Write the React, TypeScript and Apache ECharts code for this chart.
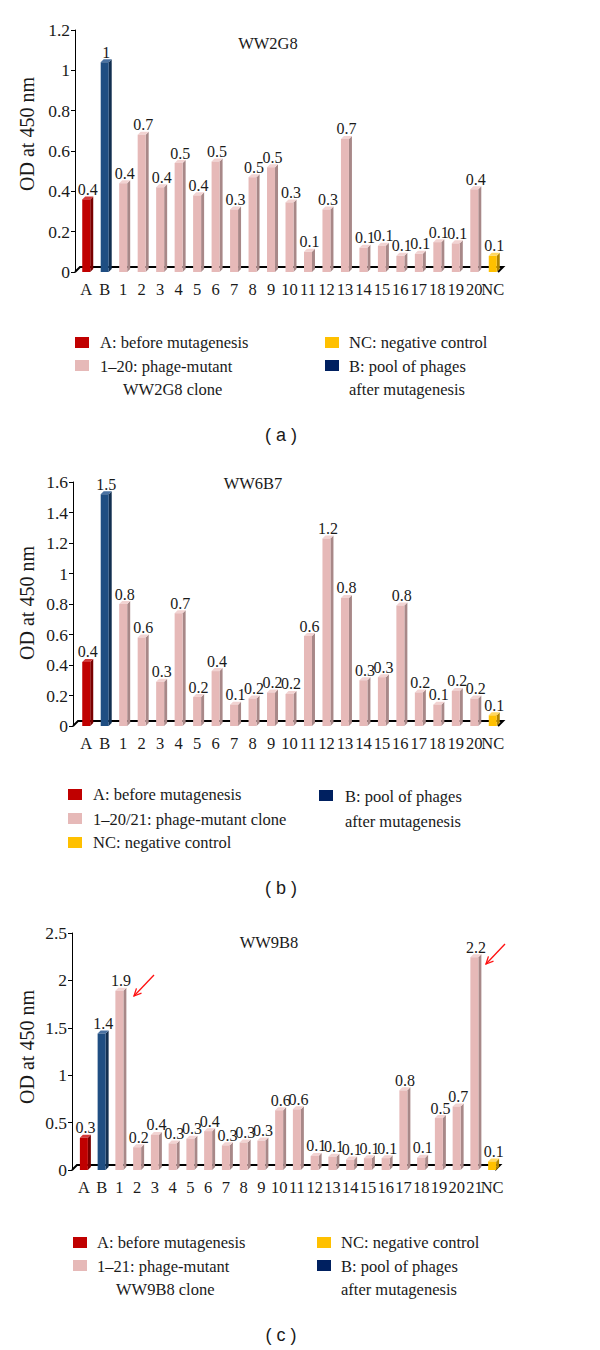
import React, { useEffect, useRef } from "react";
import * as echarts from "echarts";

const SERIF = "'Liberation Serif', 'Times New Roman', serif";
const SANS = "'Liberation Sans', Arial, sans-serif";

// ---- data ----
const categoriesA = ["A", "B", "1", "2", "3", "4", "5", "6", "7", "8", "9", "10", "11", "12", "13", "14", "15", "16", "17", "18", "19", "20", "NC"];
const valuesA = [0.36, 1.04, 0.44, 0.68, 0.42, 0.54, 0.38, 0.548, 0.31, 0.47, 0.52, 0.345, 0.1, 0.31, 0.66, 0.12, 0.13, 0.08, 0.09, 0.148, 0.142, 0.41, 0.08];

const categoriesB = ["A", "B", "1", "2", "3", "4", "5", "6", "7", "8", "9", "10", "11", "12", "13", "14", "15", "16", "17", "18", "19", "20", "NC"];
const valuesB = [0.42, 1.52, 0.8, 0.58, 0.29, 0.74, 0.19, 0.36, 0.14, 0.18, 0.22, 0.21, 0.59, 1.23, 0.84, 0.3, 0.32, 0.79, 0.22, 0.14, 0.23, 0.18, 0.07];

const categoriesC = ["A", "B", "1", "2", "3", "4", "5", "6", "7", "8", "9", "10", "11", "12", "13", "14", "15", "16", "17", "18", "19", "20", "21", "NC"];
const valuesC = [0.34, 1.44, 1.89, 0.24, 0.37, 0.28, 0.33, 0.41, 0.26, 0.29, 0.31, 0.63, 0.64, 0.148, 0.14, 0.11, 0.125, 0.125, 0.84, 0.13, 0.548, 0.67, 2.245, 0.09];

const yMaxes = [1.2, 1.6, 2.5];
const yIntervals = [0.2, 0.2, 0.5];
const titles = ["WW2G8", "WW6B7", "WW9B8"];
const panelLetters = ["( a )", "( b )", "( c )"];
const yName = "OD at 450 nm";

const FACE: Record<string, { front: string; side: string; top: string }> = {
  A: { front: "#C00000", side: "#7A0000", top: "#D23A3A" },
  B: { front: "#1F4E82", side: "#122F50", top: "#4A72A2" },
  P: { front: "#E6B9B8", side: "#A88888", top: "#F2D3D2" },
  NC: { front: "#FFC000", side: "#B08400", top: "#FFD760" },
};

const LEG = { red: "#C00000", pink: "#E6B9B8", yellow: "#FFC000", navy: "#002060" };

const fmt = (v: number) => String(Math.round(v * 10) / 10);

function makeBars(cats: string[], vals: number[], idx: number) {
  return {
    type: "custom",
    xAxisIndex: idx,
    yAxisIndex: idx,
    z: 3,
    data: vals.map((v, i) => [i, v]),
    renderItem: (params: any, api: any) => {
      const i = api.value(0);
      const v = api.value(1);
      const top = api.coord([i, v]);
      const base = api.coord([i, 0]);
      const cat = cats[params.dataIndex];
      const f = cat === "A" ? FACE.A : cat === "B" ? FACE.B : cat === "NC" ? FACE.NC : FACE.P;
      const w = 8;
      const d = 3;
      const x0 = top[0] - w / 2;
      const x1 = top[0] + w / 2;
      const yt = top[1];
      const yb = base[1];
      return {
        type: "group",
        children: [
          { type: "polygon", shape: { points: [[x1, yt], [x1 + d, yt - d], [x1 + d, yb - d], [x1, yb]] }, style: { fill: f.side } },
          { type: "polygon", shape: { points: [[x0, yt], [x0 + d, yt - d], [x1 + d, yt - d], [x1, yt]] }, style: { fill: f.top } },
          { type: "rect", shape: { x: x0, y: yt, width: w, height: yb - yt }, style: { fill: f.front } },
          {
            type: "text",
            style: {
              text: fmt(v),
              x: top[0] + d / 2,
              y: yt - d + 1,
              align: "center",
              verticalAlign: "bottom",
              font: `16px ${SERIF}`,
              fill: "#1a1a1a",
            },
          },
        ],
      };
    },
  };
}

// layout of the three panels
const panels = [
  { left: 77, top: 30, width: 425, height: 242, axisX: 75, rightX: 503, titleX: 268, titleY: 43, nameY: 134 },
  { left: 77, top: 482, width: 425, height: 244, axisX: 73, rightX: 503, titleX: 253, titleY: 483, nameY: 603 },
  { left: 75, top: 933, width: 426, height: 237, axisX: 72, rightX: 500, titleX: 269, titleY: 942, nameY: 1047 },
];

function txt(text: string, x: number, y: number, size = 16, family = SERIF, align = "left", extra: any = {}) {
  return {
    type: "text",
    x,
    y,
    ...extra,
    style: { text, x: 0, y: 0, align, verticalAlign: "middle", font: `${size}px ${family}`, fill: "#1a1a1a" },
  };
}

function sq(x: number, y: number, color: string) {
  return { type: "rect", shape: { x, y, width: 14, height: 11 }, style: { fill: color } };
}

function arrow(x1: number, y1: number, x2: number, y2: number) {
  const dx = x1 - x2;
  const dy = y1 - y2;
  const L = Math.hypot(dx, dy);
  const bx = dx / L;
  const by = dy / L;
  const h = 8;
  const a = Math.PI / 7;
  const p1 = [x2 + h * (bx * Math.cos(a) - by * Math.sin(a)), y2 + h * (bx * Math.sin(a) + by * Math.cos(a))];
  const p2 = [x2 + h * (bx * Math.cos(-a) - by * Math.sin(-a)), y2 + h * (bx * Math.sin(-a) + by * Math.cos(-a))];
  return [
    { type: "line", shape: { x1, y1, x2, y2 }, style: { stroke: "#FF1010", lineWidth: 1.3 } },
    { type: "polyline", shape: { points: [p1, [x2, y2], p2] }, style: { stroke: "#FF1010", lineWidth: 1.3, fill: "none" } },
  ];
}

export default function App() {
  const ref = useRef<HTMLDivElement>(null);
  useEffect(() => {
    if (!ref.current) return;
    const chart = echarts.init(ref.current, undefined, { renderer: "svg" });
    const cats = [categoriesA, categoriesB, categoriesC];

    const graphic: any[] = [];
    panels.forEach((p, k) => {
      const y0 = p.top + p.height;
      graphic.push({
        type: "polyline",
        z: 0,
        shape: { points: [[p.axisX, y0], [p.axisX + 5, y0 - 5], [p.rightX, y0 - 5], [p.rightX - 5, y0]] },
        style: { stroke: "#000", lineWidth: 2, fill: "none" },
      });
      graphic.push(txt(titles[k], p.titleX, p.titleY, 16.5, SERIF, "center"));
      graphic.push(txt(yName, 27, p.nameY, 20, SERIF, "center", { rotation: Math.PI / 2 }));
    });

    // legend (a)
    graphic.push(sq(75, 337, LEG.red), txt("A: before mutagenesis", 100, 342, 16.5));
    graphic.push(sq(75, 360, LEG.pink), txt("1\u201320: phage-mutant", 100, 366, 16.5));
    graphic.push(txt("WW2G8 clone", 123, 389, 16.5));
    graphic.push(sq(325, 337, LEG.yellow), txt("NC: negative control", 349, 342, 16.5));
    graphic.push(sq(325, 360, LEG.navy), txt("B: pool of phages", 349, 366, 16.5));
    graphic.push(txt("after mutagenesis", 349, 389, 16.5));
    graphic.push(txt(panelLetters[0], 281, 435, 18, SANS, "center"));

    // legend (b)
    graphic.push(sq(68, 789, LEG.red), txt("A: before mutagenesis", 93, 794, 16.5));
    graphic.push(sq(68, 813, LEG.pink), txt("1\u201320/21: phage-mutant clone", 93, 819, 16.5));
    graphic.push(sq(68, 837, LEG.yellow), txt("NC: negative control", 93, 842, 16.5));
    graphic.push(sq(319, 790, LEG.navy), txt("B: pool of phages", 345, 796, 16.5));
    graphic.push(txt("after mutagenesis", 345, 821, 16.5));
    graphic.push(txt(panelLetters[1], 281, 888, 18, SANS, "center"));

    // legend (c)
    graphic.push(sq(73, 1237, LEG.red), txt("A: before mutagenesis", 97, 1242, 16.5));
    graphic.push(sq(73, 1260, LEG.pink), txt("1\u201321: phage-mutant", 97, 1266, 16.5));
    graphic.push(txt("WW9B8 clone", 116, 1289, 16.5));
    graphic.push(sq(317, 1237, LEG.yellow), txt("NC: negative control", 341, 1242, 16.5));
    graphic.push(sq(317, 1260, LEG.navy), txt("B: pool of phages", 341, 1266, 16.5));
    graphic.push(txt("after mutagenesis", 341, 1289, 16.5));
    graphic.push(txt(panelLetters[2], 281, 1335, 18, SANS, "center"));

    // arrows (c)
    graphic.push(...arrow(154, 975, 134, 996));
    graphic.push(...arrow(505, 944, 486, 964));

    chart.setOption({
      animation: false,
      backgroundColor: "#ffffff",
      grid: panels.map((p) => ({ left: p.left, top: p.top, width: p.width, height: p.height, containLabel: false })),
      xAxis: panels.map((p, k) => ({
        type: "category",
        gridIndex: k,
        data: cats[k],
        axisLine: { show: false },
        axisTick: { show: false },
        axisLabel: { interval: 0, margin: 9, fontSize: 16.5, fontFamily: SERIF, color: "#1a1a1a" },
      })),
      yAxis: panels.map((p, k) => ({
        type: "value",
        gridIndex: k,
        min: 0,
        max: yMaxes[k],
        interval: yIntervals[k],
        offset: p.left - p.axisX,
        axisLine: { show: true, lineStyle: { color: "#000", width: 1 } },
        axisTick: { show: true, length: 4, lineStyle: { color: "#000" } },
        splitLine: { show: false },
        axisLabel: { margin: 5, fontSize: 17.5, fontFamily: SERIF, color: "#1a1a1a" },
      })),
      graphic,
      series: [makeBars(categoriesA, valuesA, 0), makeBars(categoriesB, valuesB, 1), makeBars(categoriesC, valuesC, 2)],
    });
    return () => chart.dispose();
  }, []);
  return <div ref={ref} style={{ position: "absolute", left: 0, top: 0, width: 600, height: 1350, background: "#fff" }} />;
}
